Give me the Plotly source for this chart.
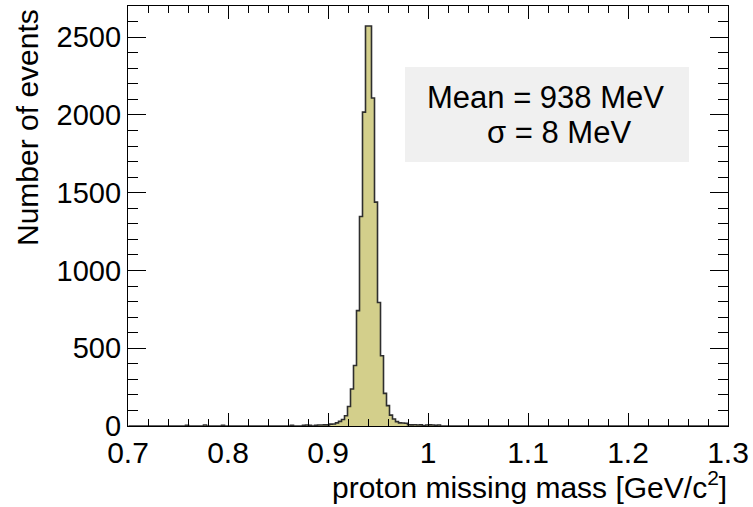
import plotly.graph_objects as go

# ---------------- data ----------------
hist_start = 0.7005      # lower edge of first bin [GeV/c^2]
bin_width = 0.003        # [GeV/c^2]
n_bins = 200

# isolated low-mass tail bins
tail_lo = [0.7575, 0.7755, 0.7935]
tail_counts = [5, 6, 5]

# contiguous core region
core_start = 0.8595
core_counts = [
    0, 4, 0, 0, 0, 5, 6, 4, 0, 5,
    6, 6, 7, 7, 12, 13, 20, 30, 42, 66,
    125, 238, 389, 742, 1347, 2018, 2571, 2571, 2109, 1439,
    794, 452, 210, 131, 70, 45, 28, 20, 19, 18,
    8, 7, 8, 6, 7, 2, 6, 7, 6, 5,
    6,
]

x_tick_vals = [0.7, 0.8, 0.9, 1.0, 1.1, 1.2, 1.3]
x_tick_text = ["0.7", "0.8", "0.9", "1", "1.1", "1.2", "1.3"]
y_tick_vals = [0, 500, 1000, 1500, 2000, 2500]

stats_lines = ["Mean = 938 MeV", "σ = 8 MeV"]

# ---------------- build histogram ----------------
counts = [0] * n_bins
for lo, c in zip(tail_lo, tail_counts):
    counts[int(round((lo - hist_start) / bin_width))] = c
k0 = int(round((core_start - hist_start) / bin_width))
for i, c in enumerate(core_counts):
    counts[k0 + i] = c

edges = [hist_start + bin_width * k for k in range(n_bins + 1)]
ys = counts + [counts[-1]]

FONT = "Liberation Sans, Arial, sans-serif"

fig = go.Figure()
fig.add_trace(go.Scatter(
    x=edges, y=ys, mode="lines", line_shape="hv",
    line=dict(color="#2e2e2e", width=1.6),
    fill="tozeroy", fillcolor="#d3cf8b",
    hoverinfo="skip", showlegend=False,
))

axis_common = dict(
    showgrid=False, zeroline=False, automargin=False,
    showline=True, linecolor="black", linewidth=1.2,
    mirror="ticks", ticks="inside", tickcolor="black", tickwidth=1.2,
)

fig.update_xaxes(
    range=[0.7, 1.3], tickmode="array", tickvals=x_tick_vals, ticktext=x_tick_text,
    ticklen=13, tickfont=dict(family=FONT, size=30, color="black"),
    minor=dict(ticks="inside", dtick=0.02, tick0=0.7, ticklen=7,
               tickcolor="black", tickwidth=1.2),
    **axis_common,
)
fig.update_yaxes(
    range=[0, 2700], tickmode="array", tickvals=y_tick_vals,
    ticklen=18, tickfont=dict(family=FONT, size=29, color="black"),
    minor=dict(ticks="inside", dtick=100, tick0=0, ticklen=10,
               tickcolor="black", tickwidth=1.2),
    **axis_common,
)

# statistics box
fig.add_shape(type="rect", xref="paper", yref="paper",
              x0=0.4617, x1=0.935, y0=0.6286, y1=0.855,
              fillcolor="#f0f0f0", line=dict(width=0), layer="below")
fig.add_annotation(text=stats_lines[0], xref="paper", yref="paper",
                   x=0.696, y=0.783, xanchor="center", yanchor="middle",
                   showarrow=False,
                   font=dict(family=FONT, size=31, color="black"))
fig.add_annotation(text=stats_lines[1], xref="paper", yref="paper",
                   x=0.7175, y=0.698, xanchor="center", yanchor="middle",
                   showarrow=False,
                   font=dict(family=FONT, size=31, color="black"))

# axis titles (ROOT style: right / top aligned)
fig.add_annotation(text="proton missing mass [GeV/c<sup>2</sup>]",
                   xref="paper", yref="paper", x=1.0, y=0.0,
                   xanchor="right", yanchor="top", yshift=-39, borderpad=0,
                   showarrow=False, font=dict(family=FONT, size=30, color="black"))
fig.add_annotation(text="Number of events", textangle=-90,
                   xref="paper", yref="paper", x=0.0, y=1.0,
                   xanchor="right", yanchor="top", xshift=-82, yshift=-1,
                   showarrow=False, font=dict(family=FONT, size=30, color="black"))

fig.update_layout(
    width=753, height=507,
    margin=dict(l=128, r=25, t=6, b=81),
    paper_bgcolor="white", plot_bgcolor="white",
    showlegend=False,
)

fig.write_html("out.html",
               config={"displayModeBar": False},
               post_script="document.body.style.margin='0';document.body.style.padding='0';")
